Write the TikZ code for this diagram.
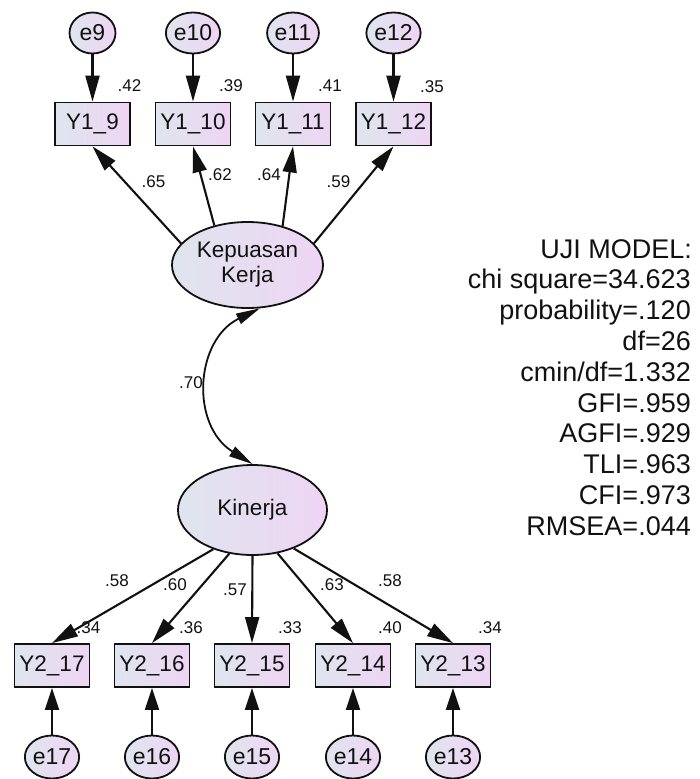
\documentclass[tikz,border=0pt]{standalone}
\usepackage{fontspec}
\setmainfont{Liberation Sans}
\usetikzlibrary{arrows.meta,shapes.geometric}
\definecolor{shadeL}{HTML}{DFE5EE}
\definecolor{shadeR}{HTML}{EED5F3}
\definecolor{ink}{HTML}{111111}
\begin{document}
\begin{tikzpicture}[x=1pt,y=-1pt,
  base/.style={draw=ink, line width=1.8pt, left color=shadeL, right color=shadeR, text=ink, inner sep=0pt},
  obs/.style={base, rectangle, minimum width=75pt, minimum height=43pt, font=\fontsize{22.5}{26}\selectfont},
  lat/.style={base, ellipse, font=\fontsize{22.5}{25}\selectfont, align=center},
  err/.style={base, ellipse, minimum width=46pt, minimum height=41pt, font=\fontsize{23}{26}\selectfont},
  lab/.style={font=\fontsize{17}{20}\selectfont, text=ink, inner sep=0pt},
  stat/.style={font=\fontsize{27}{30}\selectfont, text=ink, inner sep=0pt, anchor=base east},
  load/.style={draw=ink, line width=2.1pt, -{Triangle[length=26pt,width=14pt]}},
  loadshort/.style={draw=ink, line width=2.1pt, -{Triangle[length=22pt,width=14pt]}},
  cov/.style={draw=ink, line width=1.8pt, {Triangle[length=24pt,width=11pt]}-{Triangle[length=24pt,width=11pt]}}
]
\useasboundingbox (0,0) rectangle (700,779);

% latent variables
\node[lat, minimum width=151pt, minimum height=86pt] (kep) at (247.5,265) {Kepuasan\\Kerja};
\node[lat, minimum width=149pt, minimum height=90pt] (kin) at (252.5,510) {Kinerja};

% top indicators
\node[obs] (y9)  at (92.5,124) {Y1\_9};
\node[obs] (y10) at (193,124) {Y1\_10};
\node[obs] (y11) at (293,124) {Y1\_11};
\node[obs] (y12) at (393.5,124) {Y1\_12};

\node[err] (e9)  at (92.5,33) {e9};
\node[err] (e10) at (193,33) {e10};
\node[err] (e11) at (293,33) {e11};
\node[err] (e12) at (393.5,33) {e12};

% bottom indicators
\node[obs] (y17) at (52,665.5) {Y2\_17};
\node[obs] (y16) at (152,665.5) {Y2\_16};
\node[obs] (y15) at (252,665.5) {Y2\_15};
\node[obs] (y14) at (353,665.5) {Y2\_14};
\node[obs] (y13) at (453,665.5) {Y2\_13};

\node[err, minimum width=44pt, minimum height=43pt] (e17) at (52,757) {e17};
\node[err, minimum width=44pt, minimum height=43pt] (e16) at (152,757) {e16};
\node[err, minimum width=44pt, minimum height=43pt] (e15) at (252,757) {e15};
\node[err, minimum width=44pt, minimum height=43pt] (e14) at (353,757) {e14};
\node[err, minimum width=44pt, minimum height=43pt] (e13) at (453,757) {e13};

% error paths
\draw[load] (e9) -- (y9.north);
\draw[load] (e10) -- (y10.north);
\draw[load] (e11) -- (y11.north);
\draw[load] (e12) -- (y12.north);
\draw[loadshort] (e17) -- (y17.south);
\draw[loadshort] (e16) -- (y16.south);
\draw[loadshort] (e15) -- (y15.south);
\draw[loadshort] (e14) -- (y14.south);
\draw[loadshort] (e13) -- (y13.south);

% loadings
\draw[load] (kep.162) -- (y9.south);
\draw[load] (kep.130) -- (y10.south);
\draw[load] (kep.48) -- (y11.south);
\draw[load] (kep.18) -- (y12.south);

\draw[load] (kin.225) -- (y17.north);
\draw[load] (kin.242) -- (y16.north);
\draw[load] (kin.270) -- (y15.north);
\draw[load] (kin.300) -- (y14.north);
\draw[load] (kin.317) -- (y13.north);

% covariance
\draw[cov] (kep.-74) .. controls (195,340) and (190,425) .. (kin.north);
\node[lab] (c70) at (191,383) {.70};

% top labels
\node[lab] (r9)  at (129.5,86) {.42};
\node[lab] (r10) at (231,86) {.39};
\node[lab] (r11) at (330,86) {.41};
\node[lab] (r12) at (432,87) {.35};
\node[lab] (l9)  at (153.5,181.5) {.65};
\node[lab] (l10) at (220,175) {.62};
\node[lab] (l11) at (269,175) {.64};
\node[lab] (l12) at (338.5,182) {.59};

% bottom labels
\node[lab] (l17) at (117,581) {.58};
\node[lab] (l16) at (175,585) {.60};
\node[lab] (l15) at (235,590) {.57};
\node[lab] (l14) at (332,585) {.63};
\node[lab] (l13) at (390,581) {.58};
\node[lab] (r17) at (88.5,628) {.34};
\node[lab] (r16) at (191,628) {.36};
\node[lab] (r15) at (290,628) {.33};
\node[lab] (r14) at (390,628) {.40};
\node[lab] (r13) at (490,628) {.34};

% fit statistics
\node[stat] (s1)  at (692,258)   {UJI MODEL:};
\node[stat] (s2)  at (691,288.8) {chi square=34.623};
\node[stat] (s3)  at (691,319.6) {probability=.120};
\node[stat] (s4)  at (691,350.4) {df=26};
\node[stat] (s5)  at (691,381.2) {cmin/df=1.332};
\node[stat] (s6)  at (691,412)   {GFI=.959};
\node[stat] (s7)  at (691,442.8) {AGFI=.929};
\node[stat] (s8)  at (691,473.6) {TLI=.963};
\node[stat] (s9)  at (691,504.4) {CFI=.973};
\node[stat] (s10) at (691,535.2) {RMSEA=.044};
\end{tikzpicture}
\end{document}
